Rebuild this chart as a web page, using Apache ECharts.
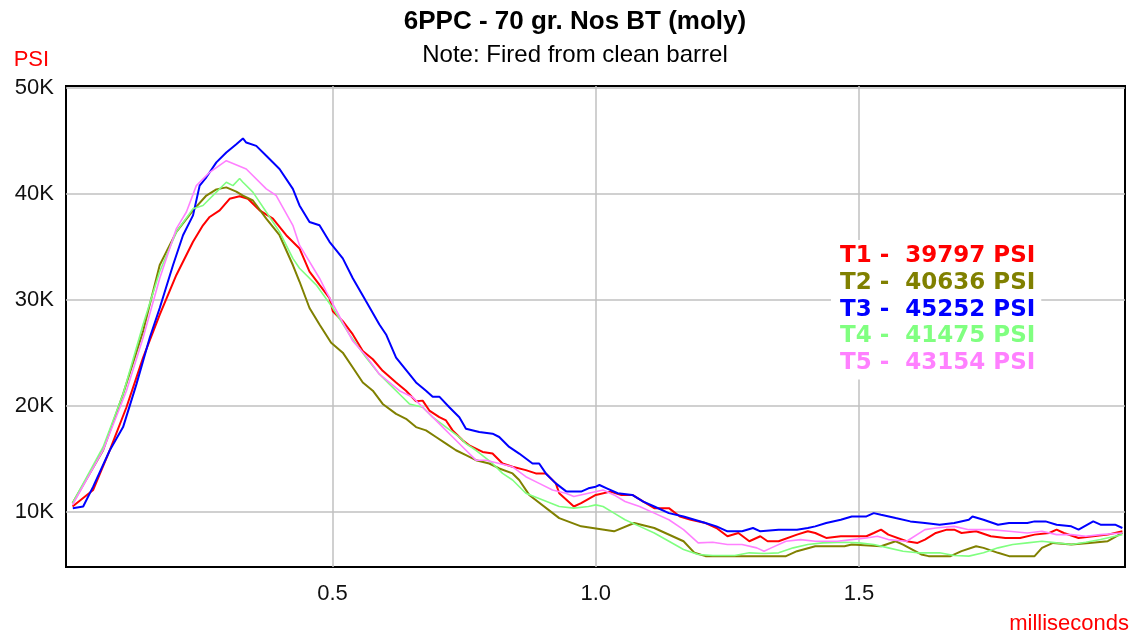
<!DOCTYPE html>
<html>
<head>
<meta charset="utf-8">
<script src="https://cdn.jsdelivr.net/npm/echarts@6/dist/echarts.min.js"></script>
<style>html,body{margin:0;padding:0;background:#fff;}#c{width:1132px;height:635px;}</style>
</head>
<body>
<div id="c"></div>
<script>
// ---- data (time in ms, pressure in PSI) ----
const seriesNames = ['T1', 'T2', 'T3', 'T4', 'T5'];
const peakPsi = [39797, 40636, 45252, 41475, 43154];
const xTicks = [0.5, 1.0, 1.5];
const yTicks = [10000, 20000, 30000, 40000, 50000];

const t1 = [[0.0064,10534],[0.0456,12097],[0.0772,15843],[0.1088,19897],[0.1404,24578],[0.172,28632],[0.2036,32377],[0.2352,35505],[0.2541,37060],[0.2668,37846],[0.2858,38464],[0.3047,39560],[0.3237,39797],[0.3394,39560],[0.3616,38464],[0.3869,37686],[0.4122,36123],[0.4374,34878],[0.4564,32693],[0.4754,31444],[0.4944,30196],[0.5007,28948],[0.5196,28012],[0.5386,26763],[0.5576,25203],[0.5766,24422],[0.5954,23330],[0.6208,22237],[0.6397,21457],[0.6587,20458],[0.6713,20521],[0.684,19585],[0.7029,18960],[0.7156,18649],[0.7282,17712],[0.7472,16776],[0.7598,16308],[0.7851,15683],[0.804,15527],[0.823,14591],[0.842,14279],[0.8672,13967],[0.8862,13654],[0.9052,13654],[0.9241,12718],[0.9306,11782],[0.9584,10534],[0.9722,10846],[1.0,11626],[1.0278,11938],[1.0486,11626],[1.0694,11626],[1.0903,11002],[1.1111,10378],[1.1389,10378],[1.1597,9597],[1.1805,9285],[1.2084,8973],[1.2292,8505],[1.2501,7725],[1.2709,8037],[1.2916,7257],[1.3125,7725],[1.3263,7257],[1.3472,7257],[1.3821,7881],[1.4027,8193],[1.4168,8037],[1.4376,7568],[1.4653,7725],[1.4862,7725],[1.514,7725],[1.5279,8037],[1.5417,8349],[1.5556,7881],[1.5903,7257],[1.6111,7100],[1.6251,7413],[1.6458,8037],[1.6667,8349],[1.6807,8349],[1.6946,8037],[1.7222,8193],[1.7501,7725],[1.7778,7568],[1.8057,7568],[1.8333,7881],[1.8612,8037],[1.8751,8349],[1.8889,8037],[1.9168,7568],[1.9447,7725],[1.9723,7881],[2.0,8193]];

const t2 = [[0.0064,10843],[0.0645,15843],[0.1024,21142],[0.1404,27078],[0.172,33314],[0.2036,36441],[0.2352,38464],[0.2605,39868],[0.2795,40450],[0.2984,40636],[0.3174,40243],[0.33,39868],[0.3489,39400],[0.3743,37686],[0.3995,36123],[0.4248,33314],[0.4374,31757],[0.4564,29260],[0.4754,27699],[0.4975,25983],[0.5196,25047],[0.5386,23642],[0.5576,22237],[0.5766,21457],[0.5954,20209],[0.6208,19272],[0.6397,18804],[0.6587,18024],[0.6776,17712],[0.6966,17088],[0.7156,16463],[0.7345,15840],[0.7535,15372],[0.7725,14903],[0.7977,14591],[0.8167,14123],[0.842,13654],[0.8546,13031],[0.8736,11626],[0.9306,9441],[0.9722,8661],[1.0347,8193],[1.073,8973],[1.1111,8505],[1.1667,7257],[1.1875,6164],[1.2084,5852],[1.3612,5852],[1.3821,6320],[1.4168,6789],[1.4723,6789],[1.4862,6945],[1.5417,6789],[1.5694,7257],[1.5835,6945],[1.6181,6008],[1.632,5852],[1.6737,5852],[1.6946,6320],[1.7222,6789],[1.7363,6632],[1.7639,6164],[1.7848,5852],[1.8333,5852],[1.8474,6632],[1.8683,7100],[1.903,6945],[1.9376,7100],[1.9723,7257],[2.0,8037]];

const t3 = [[0.0069,10375],[0.0266,10534],[0.0456,12406],[0.0772,15843],[0.1024,18025],[0.1278,22080],[0.153,26451],[0.172,29259],[0.1973,33314],[0.2162,36123],[0.2352,37996],[0.2478,40805],[0.2605,41591],[0.2795,42995],[0.2984,43932],[0.3174,44709],[0.33,45252],[0.3363,44868],[0.3553,44550],[0.3743,43613],[0.3995,42368],[0.4248,40496],[0.4374,38935],[0.4564,37375],[0.4754,37062],[0.4944,35502],[0.5196,33941],[0.5386,32068],[0.5638,29884],[0.5891,27699],[0.6018,26763],[0.6208,24578],[0.6461,23017],[0.6587,22237],[0.6776,21457],[0.6903,20896],[0.7029,20896],[0.7219,19897],[0.7409,18960],[0.7535,17868],[0.7788,17556],[0.804,17400],[0.8167,17088],[0.8356,16152],[0.8546,15527],[0.8799,14591],[0.8925,14591],[0.9052,13654],[0.9241,12718],[0.9445,11938],[0.9722,11938],[0.9861,12250],[1.0,12406],[1.007,12563],[1.0209,12250],[1.0417,11782],[1.0694,11626],[1.0903,11002],[1.1111,10534],[1.1389,9909],[1.1667,9597],[1.1875,9285],[1.2084,8973],[1.2292,8661],[1.2501,8193],[1.2778,8193],[1.2986,8505],[1.3125,8193],[1.3472,8349],[1.3821,8349],[1.4027,8505],[1.4168,8661],[1.4376,8973],[1.4653,9285],[1.4862,9597],[1.514,9597],[1.5279,9909],[1.5417,9753],[1.5694,9441],[1.5973,9129],[1.6251,8973],[1.6529,8817],[1.6807,8973],[1.7084,9285],[1.7154,9597],[1.7363,9285],[1.7639,8817],[1.7848,8973],[1.8195,8973],[1.8333,9129],[1.8542,9129],[1.8751,8817],[1.903,8661],[1.9168,8349],[1.9447,9129],[1.9585,8817],[1.9862,8817],[2.0,8505]];

const t4 = [[0.0064,10843],[0.0645,16152],[0.1024,21142],[0.1404,27696],[0.172,32696],[0.2036,36441],[0.2352,38623],[0.2541,38932],[0.2795,40186],[0.2984,41123],[0.311,40805],[0.3237,41475],[0.33,41123],[0.3489,40186],[0.3743,38314],[0.3995,36441],[0.4248,33941],[0.4374,33005],[0.469,31444],[0.5007,29260],[0.5323,26763],[0.5638,24578],[0.5891,23017],[0.6081,22081],[0.6271,21145],[0.6461,20209],[0.6713,19897],[0.6903,18960],[0.7156,18024],[0.7409,17088],[0.7535,16463],[0.7725,15840],[0.804,14591],[0.823,13654],[0.842,13031],[0.8672,11782],[0.9306,10534],[0.9584,10378],[0.9861,10534],[1.0,10690],[1.0139,10534],[1.0347,9909],[1.0556,9285],[1.0833,8661],[1.1111,8037],[1.1389,7257],[1.1667,6477],[1.1945,6008],[1.2222,5915],[1.264,5915],[1.2916,6164],[1.3195,6102],[1.3472,6164],[1.375,6632],[1.4027,6945],[1.4306,7100],[1.4723,7163],[1.5,7100],[1.5279,6945],[1.5556,6632],[1.5835,6320],[1.6111,6164],[1.6529,6164],[1.6807,5915],[1.7084,5852],[1.7363,6164],[1.7639,6632],[1.7918,6945],[1.8195,7100],[1.8474,7257],[1.8751,7100],[1.903,6945],[1.9306,7163],[1.9585,7413],[1.9862,7725],[2.0,7881]];

const t5 = [[0.0064,10683],[0.0645,15843],[0.1088,21460],[0.1404,26451],[0.172,32068],[0.2036,36750],[0.2226,38314],[0.2415,40805],[0.2668,42059],[0.2984,43154],[0.3363,42368],[0.3743,40496],[0.3932,39868],[0.4248,37060],[0.4374,35189],[0.4754,32068],[0.488,30821],[0.5386,26139],[0.5638,24735],[0.5891,23017],[0.6081,22237],[0.6271,21457],[0.6524,20833],[0.6713,19897],[0.6903,18960],[0.7093,18024],[0.7282,17088],[0.7535,15840],[0.7725,14903],[0.7914,14903],[0.8167,14591],[0.842,14279],[0.8672,13343],[0.8925,12718],[0.9178,12094],[0.9431,11782],[0.9584,11470],[0.9861,11782],[1.0139,12094],[1.0347,11626],[1.0556,11002],[1.0833,10534],[1.1111,9909],[1.1389,9285],[1.1667,8349],[1.1945,7100],[1.2222,7163],[1.2501,6945],[1.2778,6945],[1.3057,6632],[1.3195,6320],[1.3333,6632],[1.3612,7257],[1.3889,7413],[1.4168,7257],[1.4585,7257],[1.4862,7413],[1.514,7568],[1.5349,7725],[1.5556,7413],[1.5903,7257],[1.6251,8349],[1.6458,8505],[1.6807,8661],[1.7084,8349],[1.7501,8349],[1.7848,8193],[1.8195,8037],[1.8474,8193],[1.8751,7881],[1.903,7881],[1.9306,7725],[1.9585,7881],[2.0,8037]];

const seriesData = [t1, t2, t3, t4, t5];

// ---- styles ----
const colors = ['#ff0000', '#808000', '#0000ff', '#80ff80', '#ff80ff'];
const widths = [2, 2, 2, 1.6, 1.6];
const FONT = '"Liberation Sans", Arial, sans-serif';

const chart = echarts.init(document.getElementById('c'), null, {renderer: 'canvas'});

const series = seriesNames.map((n, i) => ({
  name: n,
  type: 'line',
  data: seriesData[i],
  showSymbol: false,
  symbol: 'none',
  smooth: false,
  animation: false,
  lineStyle: {color: colors[i], width: widths[i]},
  itemStyle: {color: colors[i]},
  z: 3
}));

chart.setOption({
  backgroundColor: '#ffffff',
  animation: false,
  title: {
    text: '6PPC - 70 gr. Nos BT (moly)',
    subtext: 'Note: Fired from clean barrel',
    left: 575,
    textAlign: 'center',
    top: 7,
    itemGap: 4,
    padding: 0,
    textStyle: {fontFamily: FONT, fontWeight: 'bold', fontSize: 26, color: '#000', lineHeight: 30},
    subtextStyle: {fontFamily: FONT, fontSize: 24, color: '#000', lineHeight: 28}
  },
  legend: {
    orient: 'vertical',
    left: 831,
    top: 240,
    padding: [3, 6, 3, 4],
    backgroundColor: '#ffffff',
    itemWidth: 0,
    itemHeight: 0,
    itemGap: 0,
    icon: 'none',
    selectedMode: false,
    data: seriesNames.map((n, i) => ({
      name: n,
      textStyle: {color: colors[i]}
    })),
    formatter: name => name + ' -  ' + peakPsi[seriesNames.indexOf(name)] + ' PSI',
    textStyle: {fontFamily: '"DejaVu Sans", sans-serif', fontWeight: 'bold', fontSize: 23, lineHeight: 26.7}
  },
  grid: {
    left: 66, right: 6, top: 86, bottom: 64,
    show: true, borderColor: '#000', borderWidth: 2, backgroundColor: '#ffffff',
    containLabel: false
  },
  xAxis: {
    type: 'value',
    min: -0.006,
    max: 2.005,
    name: 'milliseconds',
    nameLocation: 'end',
    nameGap: 4,
    nameTextStyle: {fontFamily: FONT, fontSize: 22, color: '#ff0000', align: 'right', verticalAlign: 'top', padding: [46, 0, 0, 0]},
    axisLine: {show: false},
    axisTick: {show: false, customValues: xTicks},
    axisLabel: {
      customValues: xTicks,
      fontFamily: FONT, fontSize: 22, color: '#111', margin: 16,
      formatter: v => v.toFixed(1)
    },
    splitLine: {show: true, lineStyle: {color: '#c0c0c0', width: 1.5}}
  },
  yAxis: {
    type: 'value',
    min: 4827,
    max: 50200,
    name: 'PSI',
    nameLocation: 'end',
    nameGap: 15,
    nameTextStyle: {fontFamily: FONT, fontSize: 22, color: '#ff0000', align: 'right', padding: [0, 20, 0, 0]},
    axisLine: {show: false},
    axisTick: {show: false, customValues: yTicks},
    axisLabel: {
      customValues: yTicks,
      fontFamily: FONT, fontSize: 22, color: '#111', margin: 12,
      formatter: v => (v / 1000) + 'K'
    },
    splitLine: {show: true, lineStyle: {color: '#c0c0c0', width: 1.5}}
  },
  series: series
});
</script>
</body>
</html>
